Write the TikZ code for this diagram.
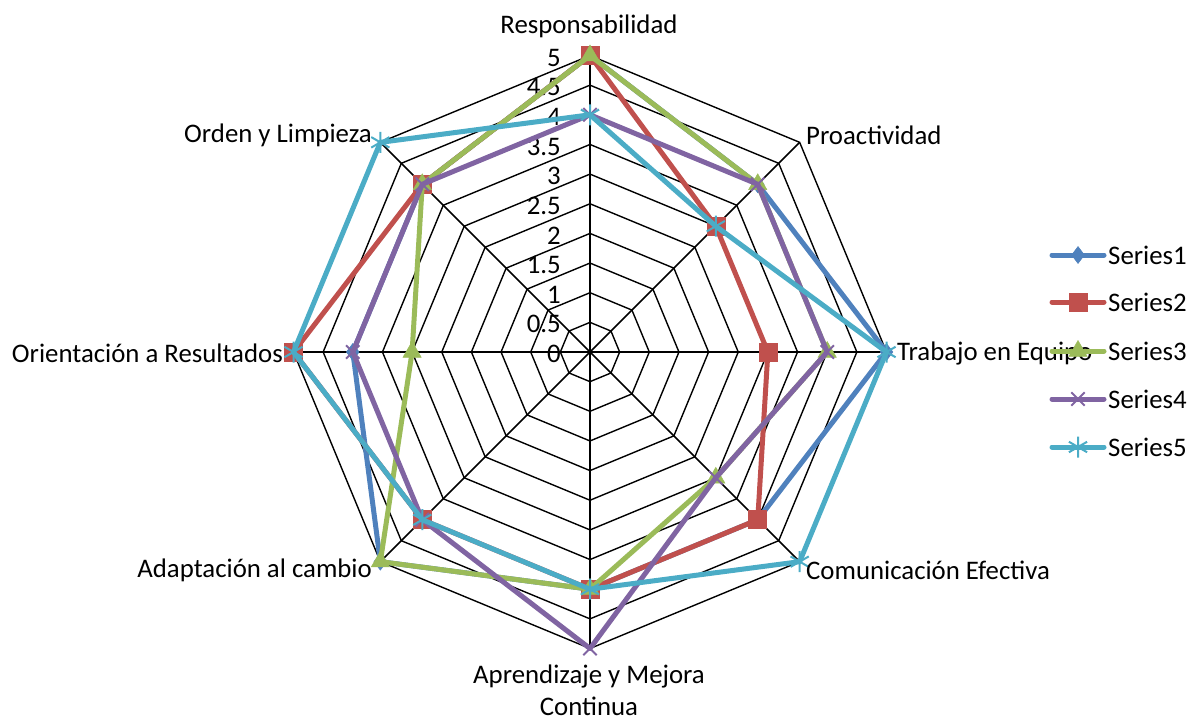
\documentclass[tikz,border=0pt]{standalone}
\usepackage{fontspec}
\setmainfont{Carlito}
\usetikzlibrary{plotmarks}
\definecolor{cA}{HTML}{4F81BD}
\definecolor{cB}{HTML}{C0504D}
\definecolor{cC}{HTML}{9BBB59}
\definecolor{cD}{HTML}{8064A2}
\definecolor{cE}{HTML}{4BACC6}
\tikzset{
  gridln/.style={draw=black, line width=1.4pt},
  spoke/.style={draw=black, line width=1.6pt},
  serline/.style={line width=5pt, line join=round, line cap=round},
  lbl/.style={font=\fontsize{26.8}{32}\selectfont, inner sep=0pt},
  tick/.style={font=\fontsize{26.8}{32}\selectfont, inner sep=0pt, anchor=east},
  mkA/.style={mark=diamond*, mark size=8.5pt, mark options={fill=cA, draw=cA, line width=0.5pt}},
  mkB/.style={mark=square*, mark size=9pt, mark options={fill=cB, draw=cB, line width=0.5pt}},
  mkC/.style={mark=triangle*, mark size=10.5pt, mark options={fill=cC, draw=cC, line width=0.5pt}},
  mkD/.style={mark=x, mark size=9.5pt, mark options={draw=cD, line width=2pt}},
  mkE/.style={mark=asterisk, mark size=10.5pt, mark options={draw=cE, line width=2pt}},
}
\begin{document}
\begin{tikzpicture}[x=1pt,y=1pt]
\useasboundingbox (0,0) rectangle (1196,-718);
\def\R{59.3}
\begin{scope}[shift={(590,-352)}]
  \coordinate (C) at (0,0);
  % grid octagons
  \foreach \l in {1,...,10} {
    \draw[gridln] (0:\l*29.65) \foreach \a in {45,90,...,315} { -- (\a:\l*29.65) } -- cycle;
  }
  % spokes
  \foreach \a in {0,45,...,315} { \draw[spoke] (C) -- (\a:296.5); }
  % tick labels
  \foreach \v/\t in {0/0,1/0.5,2/1,3/1.5,4/2,5/2.5,6/3,7/3.5,8/4,9/4.5,10/5} {
    \node[tick] (t\v) at (-29,\v*29.65-2) {\t};
  }
  % series
  \foreach \s/\c/\m/\vals in {
     A/cA/mkA/{5,4,5,4,4,5,4,4},
     B/cB/mkB/{5,3,3,4,4,4,5,4},
     C/cC/mkC/{5,4,4,3,4,5,3,4},
     D/cD/mkD/{4,4,4,3,5,4,4,4},
     E/cE/mkE/{4,3,5,5,4,4,5,5}} {
    \foreach \v [count=\i from 0] in \vals {
      \pgfmathsetmacro{\ang}{90-45*\i}
      \coordinate (p\s\i) at (\ang:\v*\R);
    }
    \draw[serline, draw=\c] (p\s0) -- (p\s1) -- (p\s2) -- (p\s3) -- (p\s4) -- (p\s5) -- (p\s6) -- (p\s7) -- cycle;
    \draw[\m] plot[only marks] coordinates {(p\s0) (p\s1) (p\s2) (p\s3) (p\s4) (p\s5) (p\s6) (p\s7)};
  }
\end{scope}
% axis labels
\node[lbl] (l1) at (589,-26) {Responsabilidad};
\node[lbl, anchor=west] (l2) at (806,-135) {Proactividad};
\node[lbl, anchor=west] (l3) at (897,-353) {Trabajo en Equipo};
\node[lbl, anchor=west] (l4) at (806,-570) {Comunicación Efectiva};
\node[lbl, align=center] (l5) at (589,-690) {Aprendizaje y Mejora\\Continua};
\node[lbl, anchor=east] (l6) at (372,-570) {Adaptación al cambio};
\node[lbl, anchor=east] (l7) at (283,-353) {Orientación a Resultados};
\node[lbl, anchor=east] (l8) at (372,-135) {Orden y Limpieza};
% legend
\foreach \s/\c/\m/\y/\n in {A/cA/mkA/255/1, B/cB/mkB/302/2, C/cC/mkC/351/3, D/cD/mkD/399/4, E/cE/mkE/447/5} {
  \coordinate (ga\s) at (1052,-\y);
  \coordinate (gb\s) at (1104,-\y);
  \draw[serline, draw=\c] (ga\s) -- (gb\s);
  \draw[\m] plot[only marks] coordinates {(1078,-\y)};
  \node[lbl, anchor=west] (leg\s) at (1108,-\y) {Series\n};
}
\end{tikzpicture}
\end{document}
